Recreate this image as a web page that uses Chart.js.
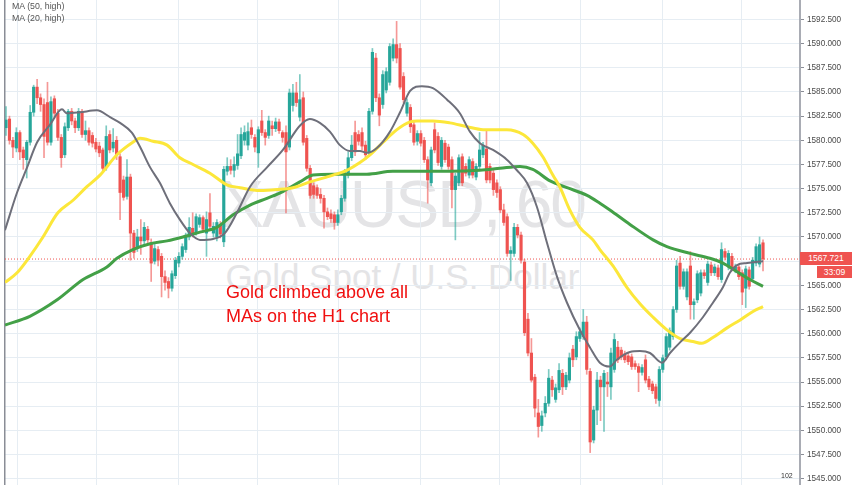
<!DOCTYPE html>
<html>
<head>
<meta charset="utf-8">
<title>XAUUSD H1</title>
<script src="https://cdn.jsdelivr.net/npm/chart.js@4.4.1/dist/chart.umd.min.js"></script>
<style>
  html, body { margin: 0; padding: 0; background: #fff; }
  #wrap { position: relative; width: 852px; height: 485px; overflow: hidden; font-family: "Liberation Sans", Arial, sans-serif; }
  #chart { position: absolute; left: 0; top: 0; z-index: 1; }
  .wm { position: absolute; left: 5px; width: 795px; text-align: center; color: #e4e4e6; z-index: 0; white-space: nowrap; line-height: 1; }
  #legend { position: absolute; left: 12px; top: 0; z-index: 2; font-size: 8.8px; line-height: 12px; color: #555; }
  #note { position: absolute; left: 226px; top: 280px; z-index: 2; font-size: 18px; line-height: 24px; color: #f01010; }
  .tag { position: absolute; z-index: 2; background: #ef5350; color: #fff; font-size: 8.5px; text-align: center; }
  #lastTag { left: 800px; top: 252px; width: 52px; height: 13px; line-height: 13px; }
  #timer { left: 817px; top: 266px; width: 35px; height: 12px; line-height: 12px; }
  #badge { position: absolute; z-index: 2; left: 781px; top: 472px; font-size: 7px; color: #333; }
</style>
</head>
<body>
<div id="wrap">
  <div class="wm" style="top:171px;font-size:66px;letter-spacing:-2px">XAUUSD, 60</div>
  <div class="wm" style="top:259px;font-size:35px">Gold Spot / U.S. Dollar</div>
  <canvas id="chart" width="852" height="485" style="width:852px;height:485px"></canvas>
  <div id="legend"><div>MA (50, high)</div><div>MA (20, high)</div></div>
  <div id="note">Gold climbed above all<br>MAs on the H1 chart</div>
  <div id="lastTag" class="tag"></div>
  <div id="timer" class="tag">33:09</div>
  <div id="badge">102</div>
</div>
<script>
'use strict';

// hourly candles, XAUUSD
const opens = [
  1581.3,1582.2,1580.0,1579.2,1580.8,1579.0,1578.0,1579.8,1582.9,1585.5,
  1584.4,1583.7,1583.9,1579.8,1584.3,1582.8,1580.3,1578.5,1581.3,1583.0,
  1582.0,1581.3,1583.0,1580.6,1581.0,1580.5,1579.8,1579.4,1579.0,1577.2,
  1580.6,1579.2,1580.0,1578.3,1575.9,1574.2,1576.2,1570.4,1569.0,1570.0,
  1569.6,1570.8,1569.4,1567.5,1568.7,1568.0,1565.9,1565.4,1564.7,1566.0,
  1567.3,1568.0,1568.7,1570.0,1570.9,1570.5,1571.3,1572.0,1570.4,1572.5,
  1570.4,1570.0,1571.3,1569.5,1576.8,1577.3,1576.9,1577.4,1578.4,1580.0,
  1579.5,1581.3,1580.3,1578.7,1582.0,1580.8,1580.5,1581.5,1581.2,1581.9,
  1580.8,1580.8,1579.3,1583.6,1584.9,1582.4,1584.4,1580.2,1577.1,1575.3,
  1575.1,1574.4,1574.0,1572.6,1572.4,1572.3,1571.5,1572.6,1574.0,1576.4,
  1578.2,1580.8,1580.6,1580.8,1579.5,1578.7,1583.0,1588.5,1584.4,1583.7,
  1585.2,1586.0,1588.5,1589.9,1589.5,1586.6,1582.8,1583.4,1581.6,1579.9,
  1580.7,1580.0,1578.0,1575.6,1581.1,1580.4,1577.3,1579.7,1579.3,1578.0,
  1574.9,1575.6,1578.3,1577.3,1576.4,1577.8,1576.2,1577.3,1578.5,1579.1,
  1577.3,1576.6,1575.6,1574.9,1572.8,1572.1,1568.3,1568.3,1571.0,1570.2,
  1567.4,1561.5,1558.0,1555.5,1551.8,1550.5,1551.8,1552.8,1555.2,1553.2,
  1554.2,1555.9,1554.5,1555.2,1558.4,1557.6,1559.5,1559.7,1561.2,1556.1,
  1549.0,1552.1,1555.2,1554.5,1555.0,1554.5,1556.3,1558.6,1558.3,1557.9,
  1557.7,1557.6,1556.9,1556.6,1556.0,1557.3,1555.3,1554.8,1554.5,1553.1,
  1556.3,1557.6,1558.6,1559.7,1562.5,1567.3,1564.9,1563.8,1567.0,1563.0,
  1563.5,1564.2,1566.3,1565.3,1567.1,1566.3,1566.8,1565.6,1568.5,1566.9,
  1568.0,1566.6,1566.9,1566.3,1564.7,1566.6,1565.7,1567.3,1567.2,1569.4
];
const highs = [
  1583.5,1582.5,1580.3,1581.3,1581.0,1579.3,1580.0,1583.6,1585.7,1586.3,
  1584.8,1584.3,1586.0,1584.5,1584.6,1583.2,1580.6,1581.8,1583.2,1583.3,
  1582.3,1583.3,1583.2,1582.0,1581.3,1580.8,1580.2,1579.8,1579.2,1581.5,
  1581.0,1581.2,1580.4,1578.6,1576.3,1578.0,1576.5,1570.7,1570.8,1571.8,
  1571.5,1571.1,1569.8,1569.4,1569.0,1568.3,1566.5,1565.8,1566.5,1567.9,
  1568.4,1569.3,1570.4,1572.0,1572.5,1572.4,1572.3,1572.2,1572.6,1574.5,
  1571.5,1571.8,1571.6,1577.3,1578.2,1578.0,1578.3,1580.6,1581.3,1581.5,
  1581.8,1582.1,1580.6,1581.4,1583.1,1581.1,1582.5,1582.0,1582.3,1582.2,
  1581.0,1581.5,1585.3,1585.8,1586.0,1586.8,1585.0,1580.5,1577.4,1575.6,
  1575.4,1575.0,1574.3,1573.0,1572.8,1572.6,1572.8,1574.3,1577.0,1578.8,
  1580.5,1582.0,1581.0,1581.3,1579.9,1583.3,1589.5,1589.0,1584.8,1587.2,
  1587.5,1590.0,1590.5,1592.3,1590.0,1587.0,1584.3,1583.7,1582.0,1581.0,
  1581.0,1580.3,1578.3,1579.3,1581.8,1580.8,1580.3,1580.0,1579.6,1578.3,
  1576.6,1578.5,1578.6,1577.6,1578.3,1578.1,1577.6,1580.8,1579.8,1581.0,
  1577.6,1576.9,1575.9,1575.2,1573.4,1572.4,1569.0,1571.4,1571.3,1570.5,
  1567.7,1562.1,1559.5,1555.8,1553.2,1552.0,1553.5,1556.3,1555.6,1554.8,
  1556.9,1556.3,1556.0,1558.0,1558.8,1560.2,1560.6,1562.5,1561.8,1556.4,
  1552.5,1556.0,1555.6,1556.2,1556.0,1558.5,1560.0,1559.2,1558.6,1558.2,
  1558.0,1557.9,1557.2,1556.9,1556.8,1557.8,1555.6,1555.1,1554.8,1556.6,
  1557.8,1560.0,1560.6,1562.8,1567.6,1568.0,1566.7,1566.7,1568.5,1563.6,
  1566.5,1566.6,1566.6,1567.5,1567.4,1567.2,1567.1,1569.4,1568.8,1568.6,
  1568.3,1567.2,1567.2,1566.6,1567.0,1566.9,1567.9,1569.3,1570.0,1569.7
];
const lows = [
  1580.5,1579.6,1578.2,1578.8,1578.0,1577.0,1576.1,1579.5,1582.5,1583.8,
  1583.0,1578.2,1579.5,1579.5,1582.3,1580.0,1577.2,1578.2,1581.0,1581.6,
  1580.8,1581.0,1580.3,1580.0,1579.5,1579.3,1578.8,1578.3,1576.8,1576.9,
  1578.7,1578.8,1578.0,1571.8,1573.8,1573.9,1567.6,1567.8,1568.5,1568.2,
  1569.2,1569.3,1565.4,1567.2,1567.0,1563.8,1564.5,1563.7,1564.4,1565.7,
  1566.9,1567.7,1568.4,1569.7,1570.0,1570.2,1571.0,1570.5,1568.0,1570.8,
  1570.0,1569.6,1569.9,1569.0,1576.4,1576.5,1576.2,1577.0,1578.1,1579.5,
  1579.0,1580.2,1578.8,1577.2,1580.5,1579.5,1580.2,1580.5,1580.9,1580.7,
  1579.8,1572.5,1579.0,1583.0,1583.5,1582.0,1579.5,1576.8,1574.0,1574.0,
  1574.0,1573.5,1570.9,1571.8,1571.5,1570.8,1571.2,1572.3,1573.7,1576.1,
  1577.9,1578.4,1579.5,1579.0,1578.0,1578.4,1582.7,1584.0,1581.5,1583.3,
  1584.9,1585.7,1588.2,1588.0,1585.3,1583.9,1582.5,1580.8,1579.5,1579.5,
  1579.4,1577.7,1573.5,1575.3,1578.7,1577.4,1577.0,1577.7,1577.0,1573.0,
  1569.7,1575.3,1575.3,1576.3,1576.1,1576.1,1575.9,1577.0,1578.2,1575.6,
  1575.6,1574.3,1574.1,1572.5,1571.2,1568.0,1565.5,1568.0,1569.9,1567.3,
  1559.8,1557.7,1555.0,1551.4,1549.3,1549.9,1551.4,1552.5,1553.5,1552.9,
  1553.9,1553.7,1554.2,1554.9,1556.6,1557.3,1559.2,1559.4,1555.8,1547.7,
  1548.7,1550.6,1551.0,1549.9,1553.5,1553.2,1556.0,1557.0,1557.3,1557.0,
  1556.8,1556.3,1556.3,1554.0,1555.7,1554.9,1554.2,1553.8,1552.8,1552.5,
  1556.0,1557.3,1558.3,1559.4,1562.2,1564.6,1564.6,1563.5,1561.5,1561.5,
  1563.2,1563.9,1565.7,1565.0,1566.0,1566.0,1565.6,1565.3,1567.6,1566.6,
  1566.5,1566.3,1565.6,1563.0,1562.7,1564.6,1565.4,1567.0,1566.9,1566.5
];
const closes = [
  1582.1,1580.0,1579.3,1580.8,1578.8,1578.2,1579.8,1582.9,1585.5,1584.4,
  1583.7,1580.4,1579.8,1584.0,1582.8,1580.3,1578.2,1581.4,1583.0,1582.0,
  1581.3,1583.0,1580.6,1581.0,1579.8,1579.7,1579.1,1578.7,1577.1,1580.4,
  1579.0,1579.8,1578.5,1574.6,1574.1,1576.2,1570.4,1568.4,1570.0,1569.6,
  1571.0,1569.7,1567.3,1568.8,1567.6,1565.9,1565.3,1564.7,1566.2,1567.6,
  1568.0,1569.0,1570.0,1571.0,1570.4,1572.1,1572.0,1570.8,1571.8,1571.1,
  1571.1,1571.5,1570.3,1577.0,1577.3,1576.9,1577.5,1578.6,1580.6,1580.8,
  1580.9,1580.6,1579.3,1581.1,1580.8,1580.3,1582.0,1581.2,1581.9,1581.0,
  1580.3,1578.8,1584.9,1584.9,1583.9,1584.2,1579.8,1577.1,1574.3,1574.4,
  1574.3,1574.0,1572.6,1572.1,1571.9,1571.5,1572.3,1574.0,1576.7,1578.2,
  1579.5,1578.8,1579.9,1579.4,1578.5,1583.0,1589.1,1584.4,1582.6,1586.8,
  1587.1,1589.7,1589.9,1588.5,1585.5,1584.2,1583.9,1581.4,1579.8,1580.7,
  1579.7,1578.0,1575.9,1579.0,1579.0,1577.7,1580.0,1578.0,1577.3,1574.9,
  1576.3,1578.2,1575.6,1576.6,1578.0,1576.4,1577.3,1579.0,1579.5,1575.9,
  1575.9,1574.9,1574.6,1572.8,1571.5,1568.3,1568.6,1571.0,1570.2,1567.6,
  1560.1,1558.0,1555.2,1552.3,1550.4,1551.5,1552.8,1555.4,1554.2,1554.4,
  1556.2,1554.5,1555.7,1557.5,1557.3,1559.7,1560.2,1561.2,1556.3,1548.8,
  1552.1,1555.2,1554.5,1555.9,1554.8,1558.0,1559.4,1557.3,1557.6,1557.3,
  1557.1,1556.6,1556.6,1556.0,1556.5,1555.2,1554.5,1554.1,1553.3,1556.3,
  1557.5,1559.7,1560.3,1562.5,1567.0,1564.9,1566.4,1566.4,1563.0,1563.3,
  1566.2,1566.3,1566.0,1567.2,1566.3,1566.9,1565.9,1568.7,1567.9,1568.3,
  1566.8,1566.9,1565.9,1564.3,1566.7,1564.9,1567.6,1569.0,1569.2,1567.72
];

// moving averages: bar index -> price
const fastMaAt = [-0.3,3.2,6.1,9.0,12.7,16.2,17.6,21.4,26.3,30.1,33.0,36.4,38.8,41.7,44.5,47.4,50.3,53.2,56.1,59.9,
  63.3,66.8,70.6,75.5,80.1,85.0,87.9,90.8,93.7,96.6,99.5,102.4,104.4,107.3,111.1,114.0,116.9,120.3,123.5,127.6,
  131.3,134.2,137.1,140.9,144.9,147.8,150.7,153.6,156.5,159.4,162.3,166.0,168.9,171.8,174.7,176.7,180.5,183.4,186.3,189.8,
  192.1,195.0,197.9,201.6,204.5,207.4,209.4,211.5,214.4,219.0];
const fastMa = [1570.7,1574.6,1577.2,1579.8,1581.6,1583.2,1582.8,1582.9,1583.1,1582.4,1581.8,1580.8,1579.3,1577.2,1575.6,1573.5,1571.8,1570.4,1569.7,1569.8,
  1570.4,1572.5,1575.2,1577.2,1579.0,1581.5,1582.2,1581.8,1580.9,1579.5,1578.9,1578.9,1578.7,1579.2,1580.9,1582.9,1585.1,1585.6,1585.4,1584.2,
  1582.8,1580.9,1579.7,1579.0,1578.0,1576.9,1575.6,1573.1,1569.4,1565.9,1563.2,1560.4,1558.6,1557.0,1556.6,1557.3,1558.1,1558.2,1558.0,1557.0,
  1558.0,1559.1,1560.1,1561.7,1563.2,1564.8,1566.3,1567.1,1567.3,1567.5];

const midMaAt = [-0.3,3.2,6.9,10.7,15.0,19.4,23.4,27.2,32.1,36.7,38.8,42.5,46.6,50.3,54.1,59.0,63.9,67.7,73.5,78.4,
  83.0,87.9,94.6,98.6,102.4,105.3,109.1,113.1,116.9,118.9,123.5,128.4,133.4,138.0,144.9,149.6,152.4,155.3,158.2,160.2,
  163.1,166.0,169.8,171.8,175.6,179.6,183.4,187.2,191.2,195.0,198.7,201.3,204.5,208.6,212.3,216.1,219.0];
const midMa = [1565.3,1566.3,1568.0,1570.0,1572.5,1573.8,1575.2,1576.4,1578.5,1579.8,1580.2,1579.9,1579.5,1578.2,1577.5,1576.6,1575.4,1575.1,1574.8,1574.9,
  1575.1,1575.7,1576.4,1576.9,1577.7,1578.5,1579.8,1581.1,1581.9,1582.0,1582.0,1581.8,1581.4,1581.1,1581.1,1580.6,1579.7,1578.3,1576.4,1575.2,
  1572.8,1571.0,1569.7,1568.7,1567.0,1564.8,1563.1,1561.7,1560.4,1559.5,1559.2,1559.0,1559.6,1560.6,1561.4,1562.3,1562.8];

const slowMaAt = [-0.3,6.9,14.8,22.3,29.2,32.1,36.7,41.7,46.6,51.2,56.1,61.0,65.7,70.6,75.5,80.1,85.0,88.8,94.6,104.4,
  111.9,119.8,128.4,137.1,142.9,148.7,152.4,157.4,162.3,168.1,171.8,174.7,180.5,187.2,191.2,197.9,203.6,207.4,211.5,215.2,219.0];
const slowMa = [1560.9,1561.8,1563.5,1565.6,1566.9,1567.8,1568.7,1569.3,1569.6,1570.0,1570.5,1571.0,1572.3,1573.3,1574.0,1574.7,1575.7,1576.4,1576.5,1576.5,
  1576.8,1576.8,1576.8,1576.9,1577.1,1577.3,1577.0,1575.8,1575.1,1574.3,1573.5,1572.8,1571.3,1569.7,1569.0,1568.3,1567.8,1567.3,1566.4,1565.6,1564.9];

const priceTicks = [1545,1547.5,1550,1552.5,1555,1557.5,1560,1562.5,1565,1567.5,1570,1572.5,1575,1577.5,1580,1582.5,1585,1587.5,1590,1592.5];
const dayBreaks = [3.2,26.3,49.8,72.9,96.3,119.8,142.9,166.3,189.8,212.9];
const lastPrice = closes[closes.length - 1];
const lastPriceLabel = '1567.721';

const xMin = -0.29, xMax = 229.7;
const yMin = 1544.35, yMax = 1594.51;

const upColor = '#26a69a', downColor = '#ef5350';
const upWick = 'rgba(38,166,154,0.6)', downWick = 'rgba(239,83,80,0.6)';

document.getElementById('lastTag').textContent = lastPriceLabel;

const wickData = highs.map((h, i) => ({ x: i, y: [lows[i], h] }));
const bodyData = opens.map((o, i) => ({ x: i, y: [o, closes[i]] }));
const isUp = i => closes[i] >= opens[i];
const pts = (xs, ys) => xs.map((x, i) => ({ x: x, y: ys[i] }));

const labelFont = { family: '"Liberation Sans", Arial, sans-serif', size: 8.2 };

new Chart(document.getElementById('chart'), {
  type: 'bar',
  data: {
    datasets: [
      { type: 'line', data: pts(fastMaAt, fastMa), borderColor: '#6e6f7a', borderWidth: 2,
        pointRadius: 0, cubicInterpolationMode: 'monotone', order: 0 },
      { type: 'line', data: pts(midMaAt, midMa), borderColor: '#fce73a', borderWidth: 3,
        pointRadius: 0, cubicInterpolationMode: 'monotone', order: 0 },
      { type: 'line', data: pts(slowMaAt, slowMa), borderColor: '#43a047', borderWidth: 3,
        pointRadius: 0, cubicInterpolationMode: 'monotone', order: 0 },
      { type: 'bar', data: bodyData, grouped: false, barThickness: 2.5, minBarLength: 1,
        backgroundColor: ctx => isUp(ctx.dataIndex) ? upColor : downColor, order: 1 },
      { type: 'bar', data: wickData, grouped: false, barThickness: 1,
        backgroundColor: ctx => isUp(ctx.dataIndex) ? upWick : downWick, order: 2 },
      { type: 'line', data: [{ x: xMin, y: lastPrice }, { x: xMax, y: lastPrice }],
        borderColor: '#ef5350', borderWidth: 1, borderDash: [1, 2], pointRadius: 0, order: 3 }
    ]
  },
  options: {
    responsive: false,
    devicePixelRatio: 1,
    animation: false,
    layout: { padding: 0 },
    plugins: { legend: { display: false }, tooltip: { enabled: false } },
    scales: {
      x: {
        type: 'linear', min: xMin, max: xMax, offset: false,
        grid: { color: '#e6edf3', drawTicks: false, offset: false },
        border: { display: false },
        ticks: { display: false },
        afterBuildTicks: s => { s.ticks = dayBreaks.map(v => ({ value: v })); },
        afterFit: s => { s.height = 0; s.paddingLeft = 0; s.paddingRight = 0; }
      },
      y: {
        position: 'right', min: yMin, max: yMax,
        grid: { color: '#e6edf3', tickColor: '#8a8d96', tickLength: 4 },
        border: { color: '#a9acb4', width: 2 },
        ticks: { color: '#4a4a4a', font: labelFont, padding: 3, autoSkip: false,
                 callback: v => v.toFixed(3) },
        afterBuildTicks: s => { s.ticks = priceTicks.map(v => ({ value: v })); },
        afterFit: s => { s.width = 52; s.paddingTop = 0; s.paddingBottom = 0; }
      },
      edge: {
        position: 'left', min: 0, max: 1,
        grid: { display: false, drawTicks: false },
        border: { color: '#8a8d96', width: 1.5 },
        ticks: { display: false },
        afterFit: s => { s.width = 5; s.paddingTop = 0; s.paddingBottom = 0; }
      }
    }
  }
});
</script>
</body>
</html>
